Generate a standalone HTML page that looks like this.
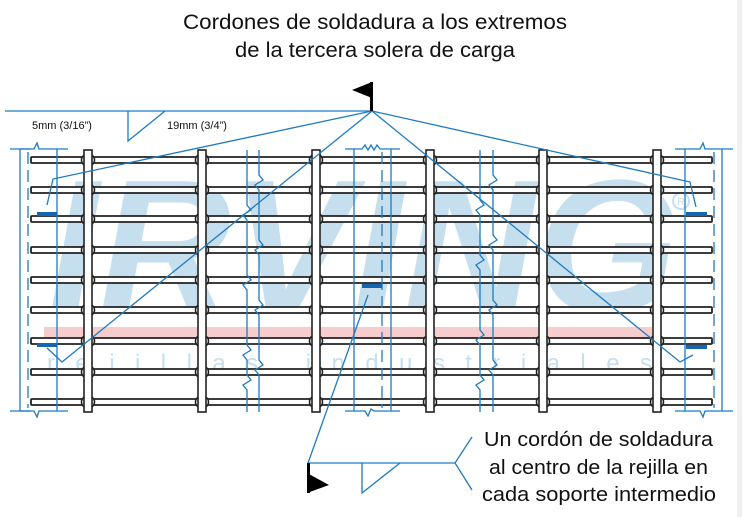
<!DOCTYPE html>
<html><head><meta charset="utf-8"><style>
html,body{margin:0;padding:0;background:#fff;}
svg{display:block;}
</style></head><body>
<svg width="742" height="517" viewBox="0 0 742 517" xmlns="http://www.w3.org/2000/svg">
<rect x="0" y="0" width="742" height="517" fill="#fff"/>
<rect x="737" y="0" width="5" height="517" fill="#f1f1f1"/>
<text x="375" y="29" font-family="Liberation Sans, sans-serif" font-size="21" text-anchor="middle" textLength="384" lengthAdjust="spacingAndGlyphs" fill="#111">Cordones de soldadura a los extremos</text>
<text x="375" y="57" font-family="Liberation Sans, sans-serif" font-size="21" text-anchor="middle" textLength="280" lengthAdjust="spacingAndGlyphs" fill="#111">de la tercera solera de carga</text>

<!-- watermark -->
<text x="48" y="312" font-family="Liberation Sans, sans-serif" font-weight="bold" font-style="italic" font-size="190" fill="#c5dfef" textLength="630" lengthAdjust="spacingAndGlyphs">IRVING</text>
<circle cx="681" cy="201" r="8" fill="none" stroke="#c5dfef" stroke-width="2"/>
<text x="681" y="205" font-family="Liberation Sans, sans-serif" font-size="10" text-anchor="middle" fill="#c5dfef">R</text>
<rect x="44" y="327" width="608" height="11" fill="#f7cccc"/>
<text x="47" y="371" font-family="Liberation Sans, sans-serif" font-size="24" fill="#c5dfef" textLength="605" lengthAdjust="spacing">rejillas industriales</text>

<!-- horizontal bars -->
<g fill="#fff" stroke="#222" stroke-width="1.8">
<rect x="31" y="157" width="681" height="6" rx="1"/>
<rect x="31" y="187" width="681" height="6" rx="1"/>
<rect x="31" y="216" width="681" height="6" rx="1"/>
<rect x="31" y="247" width="681" height="6" rx="1"/>
<rect x="31" y="277" width="681" height="6" rx="1"/>
<rect x="31" y="307" width="681" height="6" rx="1"/>
<rect x="31" y="338" width="681" height="6" rx="1"/>
<rect x="31" y="369" width="681" height="6" rx="1"/>
<rect x="31" y="399" width="681" height="6" rx="1"/>
</g>
<defs>
<g id="vb" fill="#fff" stroke="#222" stroke-width="1.6">
<ellipse cx="0" cy="160" rx="6.5" ry="6"/>
<ellipse cx="0" cy="190" rx="6.5" ry="6"/>
<ellipse cx="0" cy="219" rx="6.5" ry="6"/>
<ellipse cx="0" cy="250" rx="6.5" ry="6"/>
<ellipse cx="0" cy="280" rx="6.5" ry="6"/>
<ellipse cx="0" cy="310" rx="6.5" ry="6"/>
<ellipse cx="0" cy="341" rx="6.5" ry="6"/>
<ellipse cx="0" cy="372" rx="6.5" ry="6"/>
<ellipse cx="0" cy="402" rx="6.5" ry="6"/>
<rect x="-4" y="150" width="8" height="262"/>
</g>
</defs>
<use href="#vb" x="88"/>
<use href="#vb" x="202"/>
<use href="#vb" x="316"/>
<use href="#vb" x="430"/>
<use href="#vb" x="543"/>
<use href="#vb" x="657"/>

<!-- blue dimension/break lines -->
<g fill="none" stroke="#1f7bc0" stroke-width="1.3">
<line x1="20" y1="149" x2="20" y2="411"/>
<line x1="10" y1="149" x2="30" y2="149"/>
<line x1="10" y1="411" x2="30" y2="411"/>
<line x1="28" y1="152" x2="28" y2="408" stroke-dasharray="12,6"/>
<line x1="57" y1="149" x2="57" y2="411"/>
<path d="M20,149 L34,149 L37,143 L39,149 L68,149"/>
<path d="M20,411 L34,411 L37,417 L39,411 L68,411"/>

<path d="M247,150 L247,205 L251,210 L243,215 L247,220 L247,275 L251,280 L243,285 L247,290 L247,345 L251,350 L243,355 L247,360 L247,375 L251,380 L243,385 L247,390 L247,412"/>
<path d="M259,150 L259,175 L263,180 L255,185 L259,190 L259,240 L263,245 L255,250 L259,255 L259,300 L263,305 L255,310 L259,315 L259,360 L263,365 L255,370 L259,375 L259,412"/>

<line x1="354" y1="149" x2="354" y2="411"/>
<line x1="382" y1="152" x2="382" y2="408" stroke-dasharray="12,6"/>
<line x1="391" y1="149" x2="391" y2="411"/>
<path d="M345,149 L362,149 L365,145 L368,150 L371,145 L374,150 L377,145 L380,149 L400,149"/>
<path d="M345,411 L365,411 L368,416 L371,409 L374,411 L400,411"/>

<path d="M480,150 L480,200 L484,205 L476,210 L480,215 L480,255 L484,260 L476,265 L480,270 L480,330 L484,335 L476,340 L480,345 L480,375 L484,380 L476,385 L480,390 L480,412"/>
<path d="M493,150 L493,175 L497,180 L489,185 L493,190 L493,235 L497,240 L489,245 L493,250 L493,300 L497,305 L489,310 L493,315 L493,360 L497,365 L489,370 L493,375 L493,412"/>

<line x1="685" y1="149" x2="685" y2="411"/>
<line x1="714" y1="152" x2="714" y2="408" stroke-dasharray="12,6"/>
<line x1="722" y1="149" x2="722" y2="411"/>
<path d="M675,149 L700,149 L703,143 L705,149 L733,149"/>
<path d="M675,411 L700,411 L703,417 L705,411 L733,411"/>

<line x1="5" y1="111" x2="372" y2="111"/>
<path d="M128,111 L128,141 L165,111"/>
<path d="M372,111 L53,179 L47,205"/>
<path d="M372,111 L62,362 L47,348"/>
<path d="M372,111 L690,182 L696,207"/>
<path d="M372,111 L680,362 L693,355"/>
<path d="M368,295 L308,463 L455,463"/>
<path d="M362,463 L362,493 L400,463"/>
<path d="M472,437 L455,463 L472,490"/>
</g>
<g fill="#1565b0">
<rect x="37" y="212" width="20" height="4"/>
<rect x="37" y="343" width="20" height="4"/>
<rect x="686" y="212" width="21" height="4"/>
<rect x="686" y="345" width="21" height="4"/>
<rect x="362" y="284" width="20" height="4"/>
</g>
<rect x="370" y="82" width="3" height="29" fill="#000"/>
<polygon points="352,90 372,82 372,98" fill="#000"/>
<rect x="307" y="463" width="3" height="30" fill="#000"/>
<polygon points="307,473 329,485 307,493" fill="#000"/>

<g font-family="Liberation Sans, sans-serif" font-size="11" fill="#111">
<text x="32" y="129">5mm (3/16”)</text>
<text x="167" y="129">19mm (3/4”)</text>
</g>
<g font-family="Liberation Sans, sans-serif" font-size="20" fill="#111">
<text x="484" y="446" textLength="229" lengthAdjust="spacingAndGlyphs">Un cordón de soldadura</text>
<text x="489" y="474" textLength="219" lengthAdjust="spacingAndGlyphs">al centro de la rejilla en</text>
<text x="482" y="501" textLength="234" lengthAdjust="spacingAndGlyphs">cada soporte intermedio</text>
</g>
</svg>
</body></html>
